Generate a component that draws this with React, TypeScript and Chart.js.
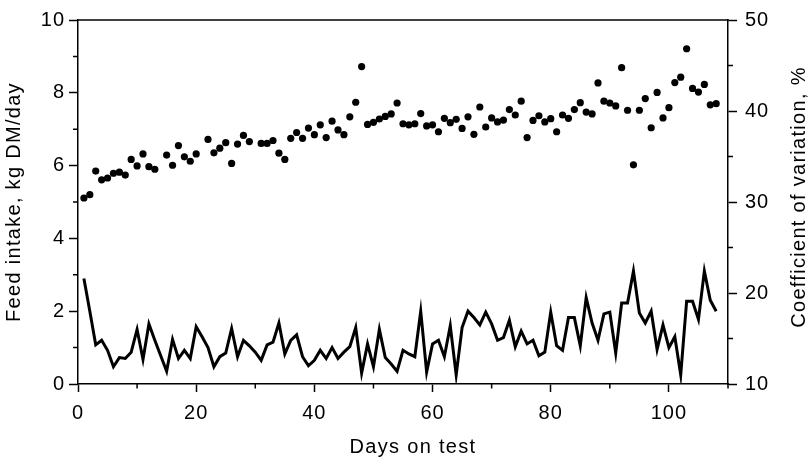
import React, { useEffect, useRef } from "react";
import { Chart, registerables } from "chart.js";

Chart.register(...registerables);

// Day numbers on test (1..108)
const days: number[] = [
  1, 2, 3, 4, 5, 6, 7, 8, 9, 10, 11, 12, 13, 14, 15, 16, 17, 18, 19, 20,
  21, 22, 23, 24, 25, 26, 27, 28, 29, 30, 31, 32, 33, 34, 35, 36, 37, 38, 39, 40,
  41, 42, 43, 44, 45, 46, 47, 48, 49, 50, 51, 52, 53, 54, 55, 56, 57, 58, 59, 60,
  61, 62, 63, 64, 65, 66, 67, 68, 69, 70, 71, 72, 73, 74, 75, 76, 77, 78, 79, 80,
  81, 82, 83, 84, 85, 86, 87, 88, 89, 90, 91, 92, 93, 94, 95, 96, 97, 98, 99, 100,
  101, 102, 103, 104, 105, 106, 107, 108,
];

// Feed intake, kg DM/day (left axis); null = no point shown
const feedIntake: (number | null)[] = [
  5.11, 5.2, 5.85, 5.61, 5.66, 5.79, 5.82, 5.74, 6.17, 5.99,
  6.32, 5.97, 5.9, null, 6.29, 6.01, 6.55, 6.24, 6.12, 6.32,
  null, 6.72, 6.35, 6.48, 6.63, 6.06, 6.59, 6.83, 6.66, null,
  6.61, 6.61, 6.69, 6.34, 6.17, 6.75, 6.91, 6.75, 7.03, 6.85,
  7.12, 6.77, 7.22, 6.98, 6.85, 7.34, 7.74, 8.72, 7.13, 7.19,
  7.28, 7.35, 7.42, 7.72, 7.15, 7.12, 7.15, 7.43, 7.09, 7.12,
  6.93, 7.3, 7.18, 7.27, 7.02, 7.34, 6.86, 7.61, 7.06, 7.31,
  7.2, 7.25, 7.54, 7.39, 7.77, 6.77, 7.24, 7.37, 7.2, 7.29,
  6.93, 7.39, 7.3, 7.54, 7.73, 7.47, 7.42, 8.27, 7.77, 7.72,
  7.64, 8.69, 7.52, 6.02, 7.52, 7.84, 7.04, 8.01, 7.31, 7.59,
  8.28, 8.43, 9.21, 8.12, 8.02, 8.23, 7.67, 7.7,
];

// Coefficient of variation, % (right axis)
const cvPercent: number[] = [
  21.6, 18.0, 14.3, 14.8, 13.7, 11.9, 12.9, 12.8, 13.5, 16.0,
  12.7, 16.6, 14.8, 13.1, 11.4, 14.9, 12.8, 13.7, 12.8, 16.3,
  15.2, 14.0, 11.9, 13.0, 13.4, 16.1, 13.0, 14.8, 14.2, 13.5,
  12.6, 14.3, 14.6, 16.7, 13.3, 14.8, 15.4, 13.0, 12.0, 12.6,
  13.7, 12.8, 14.0, 12.8, 13.5, 14.1, 16.2, 11.2, 14.4, 11.9,
  16.0, 12.9, 12.2, 11.4, 13.7, 13.3, 13.0, 18.0, 11.3, 14.4,
  14.8, 13.0, 16.4, 11.0, 16.2, 18.0, 17.3, 16.5, 17.9, 16.6,
  14.8, 15.1, 17.0, 14.1, 15.8, 14.4, 14.8, 13.1, 13.5, 17.9,
  14.2, 13.7, 17.3, 17.3, 14.2, 19.5, 16.7, 14.8, 17.7, 17.9,
  13.4, 18.9, 18.9, 22.4, 17.8, 16.7, 18.0, 13.8, 16.5, 14.0,
  15.2, 11.0, 19.1, 19.1, 17.1, 22.4, 19.2, 18.0,
];

const xTitle = "Days on test";
const yTitle = "Feed intake, kg DM/day";
const y2Title = "Coefficient of variation, %";

const FONT = "'Liberation Sans', Arial, Helvetica, sans-serif";

const framePlugin = {
  id: "framePlugin",
  beforeDraw(chart: any) {
    const ctx = chart.ctx;
    ctx.save();
    ctx.fillStyle = "#ffffff";
    ctx.fillRect(0, 0, chart.width, chart.height);
    ctx.restore();
    try {
      (ctx as any).letterSpacing = "1px";
    } catch (e) {}
  },
  afterDraw(chart: any) {
    const ctx = chart.ctx;
    const { left, right, top, bottom } = chart.chartArea;
    const xs = chart.scales.x;
    const ys = chart.scales.y;
    const y2s = chart.scales.y2;
    ctx.save();
    ctx.strokeStyle = "#000";
    ctx.lineWidth = 1.5;
    // top frame line
    ctx.beginPath();
    ctx.moveTo(left - 0.75, top);
    ctx.lineTo(right + 0.75, top);
    ctx.stroke();
    // minor ticks
    ctx.beginPath();
    for (const v of [10, 30, 50, 70, 90, 110]) {
      const px = xs.getPixelForValue(v);
      ctx.moveTo(px, bottom);
      ctx.lineTo(px, bottom + 4.5);
    }
    for (const v of [1, 3, 5, 7, 9]) {
      const py = ys.getPixelForValue(v);
      ctx.moveTo(left, py);
      ctx.lineTo(left - 5, py);
    }
    for (const v of [15, 25, 35, 45]) {
      const py = y2s.getPixelForValue(v);
      ctx.moveTo(right, py);
      ctx.lineTo(right + 5, py);
    }
    ctx.stroke();

    // titles
    ctx.fillStyle = "#000";
    ctx.font = `20px ${FONT}`;
    try {
      (ctx as any).letterSpacing = "1.3px";
    } catch (e) {}
    ctx.textAlign = "center";
    ctx.textBaseline = "alphabetic";
    ctx.fillText(xTitle, 413, 452.5);

    ctx.save();
    ctx.translate(20, (top + bottom) / 2);
    ctx.rotate(-Math.PI / 2);
    ctx.fillText(yTitle, 0, 0);
    ctx.restore();

    ctx.save();
    ctx.translate(805, 197);
    ctx.rotate(-Math.PI / 2);
    ctx.fillText(y2Title, 0, 0);
    ctx.restore();

    ctx.restore();
  },
};

export default function App() {
  const canvasRef = useRef<HTMLCanvasElement | null>(null);

  useEffect(() => {
    if (!canvasRef.current) return;
    const pointsData = days
      .map((d, i) => ({ x: d, y: feedIntake[i] }))
      .filter((p) => p.y !== null);
    const lineData = days.map((d, i) => ({ x: d, y: cvPercent[i] }));

    const tickFont = { family: FONT, size: 20 };
    const majorColor = (every: number) => (c: any) =>
      c.tick && Math.abs(c.tick.value % every) < 1e-9 ? "#000" : "rgba(0,0,0,0)";

    const chart = new Chart(canvasRef.current, {
      type: "scatter",
      data: {
        datasets: [
          {
            type: "scatter",
            label: "Feed intake",
            data: pointsData as any,
            yAxisID: "y",
            pointRadius: 3.6,
            pointBackgroundColor: "#000",
            pointBorderWidth: 0,
            borderColor: "#000",
          },
          {
            type: "line",
            label: "CV",
            data: lineData as any,
            yAxisID: "y2",
            borderColor: "#000",
            borderWidth: 3,
            pointRadius: 0,
            tension: 0,
            fill: false,
            borderJoinStyle: "miter",
          } as any,
        ],
      },
      options: {
        animation: false,
        responsive: false,
        maintainAspectRatio: false,
        layout: { padding: { top: 13, left: 0, right: 0, bottom: 0 } },
        plugins: {
          legend: { display: false },
          tooltip: { enabled: false },
          title: { display: false },
        },
        scales: {
          x: {
            type: "linear",
            position: "bottom",
            min: 0,
            max: 110,
            afterFit: (s: any) => {
              s.height = 75;
            },
            ticks: {
              stepSize: 10,
              autoSkip: false,
              maxRotation: 0,
              padding: 9,
              color: "#000",
              font: tickFont,
              callback: (v: any) => (Number(v) % 20 === 0 && Number(v) <= 100 ? String(v) : ""),
            },
            grid: {
              drawOnChartArea: false,
              drawTicks: true,
              tickLength: 8,
              tickWidth: 1.5,
              tickColor: majorColor(20) as any,
            },
            border: { display: true, color: "#000", width: 1.5 },
          },
          y: {
            type: "linear",
            position: "left",
            min: 0,
            max: 10,
            afterFit: (s: any) => {
              s.width = 78;
            },
            ticks: {
              stepSize: 1,
              autoSkip: false,
              padding: 4,
              color: "#000",
              font: tickFont,
              callback: (v: any) => (Number(v) % 2 === 0 ? String(v) : ""),
            },
            grid: {
              drawOnChartArea: false,
              drawTicks: true,
              tickLength: 9,
              tickWidth: 1.5,
              tickColor: majorColor(2) as any,
            },
            border: { display: true, color: "#000", width: 1.5 },
          },
          y2: {
            type: "linear",
            position: "right",
            min: 10,
            max: 50,
            afterFit: (s: any) => {
              s.width = 84;
            },
            ticks: {
              stepSize: 5,
              autoSkip: false,
              padding: 8,
              color: "#000",
              font: tickFont,
              callback: (v: any) => (Number(v) % 10 === 0 ? String(v) : ""),
            },
            grid: {
              drawOnChartArea: false,
              drawTicks: true,
              tickLength: 9,
              tickWidth: 1.5,
              tickColor: majorColor(10) as any,
            },
            border: { display: true, color: "#000", width: 1.5 },
          },
        },
      },
      plugins: [framePlugin as any],
    });

    return () => chart.destroy();
  }, []);

  return (
    <div style={{ position: "fixed", left: 0, top: 0, width: 812, height: 459, background: "#fff" }}>
      <canvas ref={canvasRef} width={812} height={459} style={{ width: 812, height: 459, display: "block" }} />
    </div>
  );
}
